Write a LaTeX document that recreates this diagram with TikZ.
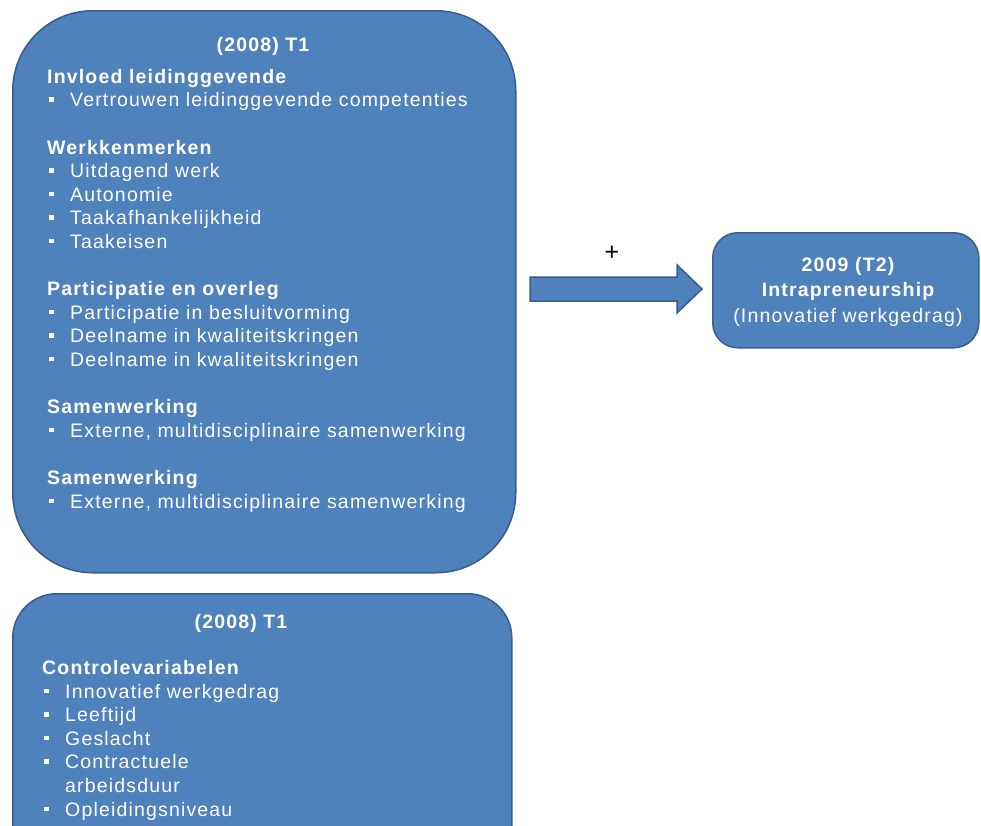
\documentclass[tikz,border=0pt]{standalone}
\usepackage{fontspec}
\usetikzlibrary{calc}
\setmainfont{Liberation Sans}[LetterSpace=6]
\definecolor{boxfill}{HTML}{4F81BD}
\definecolor{boxline}{HTML}{385D8A}
% square bullet followed by the indent of the item text
\newcommand\itm{\hspace*{2pt}\rule[5pt]{4.5pt}{4.5pt}\hspace*{16.5pt}}
\newcommand\hang{\hspace*{23pt}}
% multi-line text nodes are placed by the baseline of their last line
\tikzset{
  panel/.style={draw=boxline, line width=1.5pt, fill=boxfill, inner sep=0pt, anchor=north west},
  body/.style={text=white, align=left, inner sep=0pt, anchor=base west,
    font=\fontsize{19.5}{23.6}\selectfont},
  title/.style={text=white, inner sep=0pt, anchor=base,
    font=\fontsize{19.5}{23.6}\selectfont\bfseries},
}
\begin{document}
\begin{tikzpicture}[x=1pt, y=-1pt]
\useasboundingbox (0,0) rectangle (981,825);
\clip (0,0) rectangle (981,825);

% predictor panel (T1)
\node[panel, rounded corners=80pt, minimum width=503pt, minimum height=562pt] (pred) at (12,10) {};
\node[title] (predtitle) at (263,51) {(2008) T1};
\node[body] (predbody) at (47,508) {%
  \textbf{Invloed leidinggevende}\\
  \itm Vertrouwen leidinggevende competenties\\[23.6pt]
  \textbf{Werkkenmerken}\\
  \itm Uitdagend werk\\
  \itm Autonomie\\
  \itm Taakafhankelijkheid\\
  \itm Taakeisen\\[23.6pt]
  \textbf{Participatie en overleg}\\
  \itm Participatie in besluitvorming\\
  \itm Deelname in kwaliteitskringen\\
  \itm Deelname in kwaliteitskringen\\[23.6pt]
  \textbf{Samenwerking}\\
  \itm Externe, multidisciplinaire samenwerking\\[23.6pt]
  \textbf{Samenwerking}\\
  \itm Externe, multidisciplinaire samenwerking};

% control variables panel (T1)
\node[panel, rounded corners=44pt, minimum width=499pt, minimum height=300pt] (ctrl) at (12,593) {};
\node[title] (ctrltitle) at (241,628) {(2008) T1};
\node[body] (ctrlbody) at (42,816) {%
  \textbf{Controlevariabelen}\\
  \itm Innovatief werkgedrag\\
  \itm Leeftijd\\
  \itm Geslacht\\
  \itm Contractuele\\
  \hang arbeidsduur\\
  \itm Opleidingsniveau};

% outcome panel (T2)
\node[panel, rounded corners=25pt, minimum width=266pt, minimum height=115pt] (outc) at (712,232) {};
\node[title, align=center] (outctext) at (848,322) {%
  2009 (T2)\\[1.5pt]
  Intrapreneurship\\[1.5pt]
  \mdseries (Innovatief werkgedrag)};

% block arrow from predictors to outcome
\coordinate (tail) at (530,289);
\coordinate (tip) at (702,289);
\draw[draw=boxline, line width=1.5pt, fill=boxfill, line join=miter]
  ($(tail)+(0,-12)$) -- ($(tip)+(-25,-12)$) -- ($(tip)+(-25,-24)$) -- (tip)
  -- ($(tip)+(-25,24)$) -- ($(tip)+(-25,12)$) -- ($(tail)+(0,12)$) -- cycle;
\node[inner sep=0pt, font=\fontsize{25}{28}\selectfont] (plus) at (612,253) {+};
\end{tikzpicture}
\end{document}
